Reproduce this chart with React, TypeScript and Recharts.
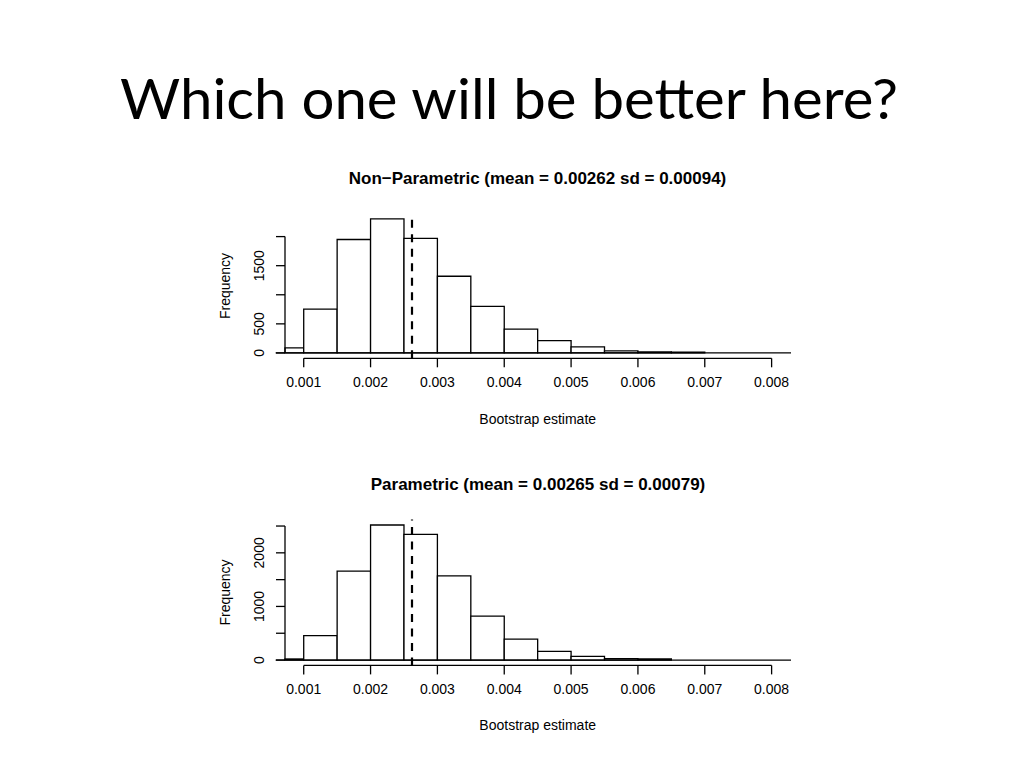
import React from "react";
import { ComposedChart, XAxis, YAxis, ReferenceArea, ReferenceLine } from "recharts";

// histogram bin edges (first bin starts at the plot's left edge)
const binEdges = [0.00072, 0.001, 0.0015, 0.002, 0.0025, 0.003, 0.0035, 0.004, 0.0045, 0.005, 0.0055, 0.006, 0.0065, 0.007];
const nonParamCounts = [86, 752, 1950, 2303, 1968, 1318, 800, 410, 213, 103, 36, 16, 14];
const paramCounts = [20, 454, 1660, 2519, 2345, 1570, 821, 392, 162, 68, 25, 20];

const xTicks = [0.001, 0.002, 0.003, 0.004, 0.005, 0.006, 0.007, 0.008];
const nonParamYTicks = [0, 500, 1000, 1500, 2000];
const nonParamYLabels = [0, 500, 1500];
const paramYTicks = [0, 500, 1000, 1500, 2000, 2500];
const paramYLabels = [0, 1000, 2000];

const nonParamMean = 0.00262;
const paramMean = 0.00262;
const baselineRange = [0.00058, 0.00829];

const FONT = "'Liberation Sans', Arial, Helvetica, sans-serif";
const LINE = 1.3;

interface HistProps {
  counts: number[];
  yTicks: number[];
  yLabels: number[];
  yDomain: [number, number];
  mean: number;
  top: number;
  marginTop: number;
  marginBottom: number;
}

function Histogram({ counts, yTicks, yLabels, yDomain, mean, top, marginTop, marginBottom }: HistProps) {
  const xMin = binEdges[0];
  const RotatedTick = ({ x, y, payload }: any) =>
    yLabels.includes(payload.value) ? (
      <text x={x} y={y} transform={`rotate(-90 ${x} ${y})`} textAnchor="middle" fontSize={14} fontFamily={FONT} fill="#000">
        {payload.value}
      </text>
    ) : (
      <g />
    );

  return (
    <div style={{ position: "absolute", left: 0, top, width: 1024, height: 280 }}>
      <ComposedChart width={1024} height={280} data={[]} margin={{ top: marginTop, right: 233, bottom: marginBottom, left: 225 }}>
        <XAxis
          type="number"
          dataKey="x"
          domain={[xMin, baselineRange[1]]}
          allowDataOverflow
          ticks={xTicks}
          interval={0}
          axisLine={false}
          tickSize={9}
          tickMargin={10}
          height={40}
          tickLine={{ stroke: "#000", strokeWidth: LINE }}
          tick={{ fontSize: 14, fontFamily: FONT, fill: "#000" }}
          tickFormatter={(v: number) => v.toFixed(3)}
        />
        <YAxis
          type="number"
          domain={yDomain}
          allowDataOverflow
          ticks={yTicks}
          interval={0}
          width={60}
          axisLine={false}
          tickSize={9}
          tickMargin={11.5}
          tickLine={{ stroke: "#000", strokeWidth: LINE }}
          tick={RotatedTick}
        />
        {counts.map((c, i) => (
          <ReferenceArea
            key={i}
            x1={binEdges[i]}
            x2={binEdges[i + 1]}
            y1={0}
            y2={c}
            fill="#fff"
            fillOpacity={1}
            stroke="#000"
            strokeWidth={LINE}
            ifOverflow="visible"
          />
        ))}
        <ReferenceLine
          segment={[{ x: baselineRange[0], y: 0 }, { x: baselineRange[1], y: 0 }]}
          stroke="#000"
          strokeWidth={LINE}
          ifOverflow="visible"
        />
        <ReferenceLine
          segment={[{ x: xMin, y: 0 }, { x: xMin, y: yTicks[yTicks.length - 1] }]}
          stroke="#000"
          strokeWidth={LINE}
          ifOverflow="visible"
        />
        <ReferenceLine
          segment={[{ x: xTicks[0], y: yDomain[0] }, { x: xTicks[xTicks.length - 1], y: yDomain[0] }]}
          stroke="#000"
          strokeWidth={LINE}
          ifOverflow="visible"
        />
        <ReferenceLine x={mean} stroke="#000" strokeWidth={2.2} strokeDasharray="8 6.5" />
      </ComposedChart>
    </div>
  );
}

export default function App() {
  return (
    <div style={{ position: "absolute", left: 0, top: 0, width: 1024, height: 768, background: "#fff", overflow: "hidden" }}>
      <Histogram
        counts={nonParamCounts}
        yTicks={nonParamYTicks}
        yLabels={nonParamYLabels}
        yDomain={[-92, 2397]}
        mean={nonParamMean}
        top={160}
        marginTop={53.5}
        marginBottom={41.7}
      />
      <Histogram
        counts={paramCounts}
        yTicks={paramYTicks}
        yLabels={paramYLabels}
        yDomain={[-100, 2620]}
        mean={paramMean}
        top={465}
        marginTop={54.6}
        marginBottom={39.6}
      />
      <svg width={1024} height={768} style={{ position: "absolute", left: 0, top: 0, pointerEvents: "none" }}>
        <text x={509} y={119} textAnchor="middle" fontFamily="Lato, 'Open Sans', sans-serif" fontSize={56} textLength={778} lengthAdjust="spacingAndGlyphs" fill="#000">
          Which one will be better here?
        </text>
        <g fontFamily={FONT} fill="#000">
          <text x={537.5} y={184} textAnchor="middle" fontSize={17} fontWeight="bold">
            Non−Parametric (mean = 0.00262 sd = 0.00094)
          </text>
          <text x={538} y={490} textAnchor="middle" fontSize={17} fontWeight="bold">
            Parametric (mean = 0.00265 sd = 0.00079)
          </text>
          <text x={230} y={286} transform="rotate(-90 230 286)" textAnchor="middle" fontSize={14}>
            Frequency
          </text>
          <text x={230} y={592.5} transform="rotate(-90 230 592.5)" textAnchor="middle" fontSize={14}>
            Frequency
          </text>
          <text x={537.7} y={424} textAnchor="middle" fontSize={14}>
            Bootstrap estimate
          </text>
          <text x={537.7} y={730} textAnchor="middle" fontSize={14}>
            Bootstrap estimate
          </text>
        </g>
      </svg>
    </div>
  );
}
